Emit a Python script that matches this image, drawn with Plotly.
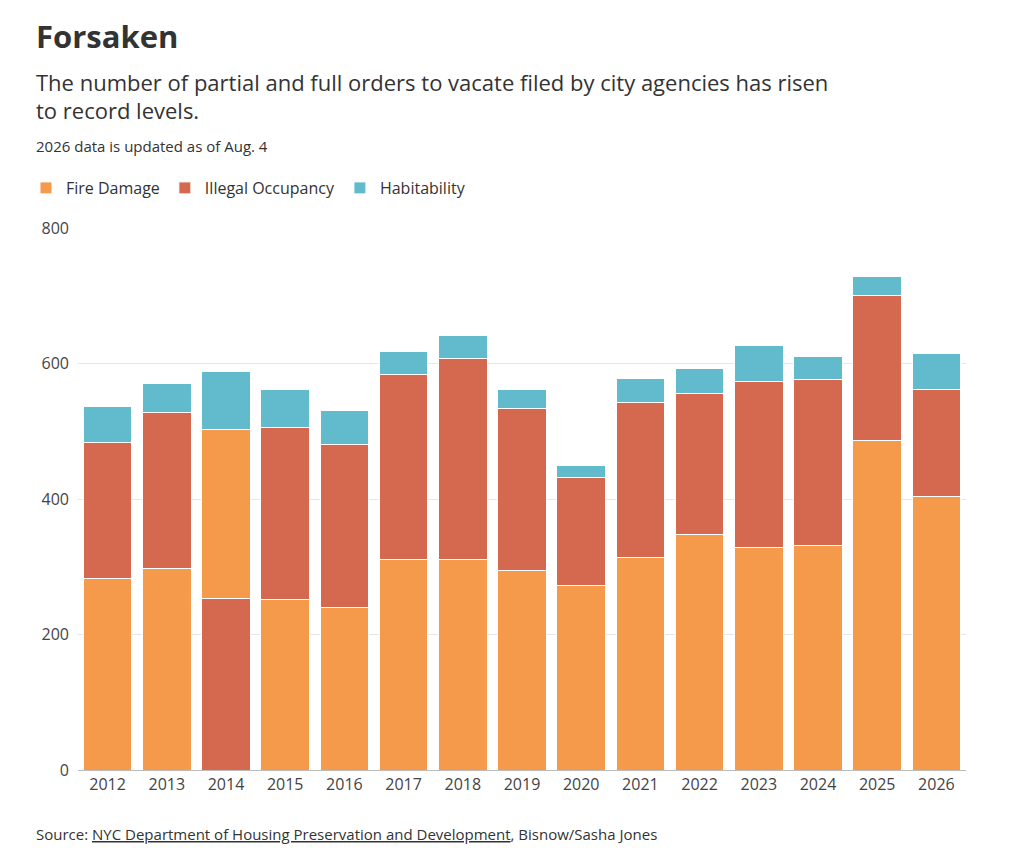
import plotly.graph_objects as go

years = [str(y) for y in range(2012, 2027)]
fire = [283, 298, 250, 252, 240, 311, 311, 295, 273, 313, 347, 329, 332, 487, 404]
illegal = [201, 229, 253, 253, 240, 273, 297, 238, 159, 230, 208, 245, 245, 213, 157]
habit = [53, 44, 85, 56, 50, 33, 34, 29, 17, 35, 38, 52, 33, 29, 54]
# In 2014 the Illegal Occupancy segment is drawn beneath Fire Damage
illegal_below_years = ["2014"]

C_FIRE = "#F5994A"
C_ILL = "#D5694F"
C_HAB = "#62BACD"
FONT = "Open Sans, Noto Sans, sans-serif"

ill_low = [v if y in illegal_below_years else 0 for y, v in zip(years, illegal)]
ill_high = [0 if y in illegal_below_years else v for y, v in zip(years, illegal)]

W, H = 1024, 853
ML, MR, MT, MB = 70, 66, 220, 91
PW, PH = W - ML - MR, H - MT - MB

def px(xp):
    return (xp - ML) / PW

def py(yp):
    return (H - MB - yp) / PH

line = dict(color="white", width=1)
fig = go.Figure()
fig.add_bar(x=years, y=ill_low, marker=dict(color=C_ILL, line=line), showlegend=False, name="Illegal Occupancy")
fig.add_bar(x=years, y=fire, marker=dict(color=C_FIRE, line=line), name="Fire Damage")
fig.add_bar(x=years, y=ill_high, marker=dict(color=C_ILL, line=line), name="Illegal Occupancy")
fig.add_bar(x=years, y=habit, marker=dict(color=C_HAB, line=line), name="Habitability")

fig.update_layout(
    barmode="stack", bargap=0.18,
    width=W, height=H,
    paper_bgcolor="white", plot_bgcolor="white",
    margin=dict(l=ML, r=MR, t=MT, b=MB),
    font=dict(family=FONT, color="#333"),
    legend=dict(orientation="h", x=px(18), y=py(180), xanchor="left", yanchor="middle",
                font=dict(size=16, color="#333"), traceorder="normal", itemwidth=30,
                tracegroupgap=0),
    xaxis=dict(tickfont=dict(size=16, color="#444"), showline=True, linecolor="#bbb",
               ticks="", showgrid=False),
    yaxis=dict(range=[0, 800], tickvals=[0, 200, 400, 600, 800], tickfont=dict(size=16, color="#444"),
               gridcolor="#e6e6e6", zeroline=False, ticks="", ticklabelstandoff=8),
)
ann = [
    ("<b>Forsaken</b>", 28, 31),
    ("The number of partial and full orders to vacate filed by city agencies has risen", 74, 22),
    ("to record levels.", 102, 22),
    ("2026 data is updated as of Aug. 4", 138, 15),
    ("Source: <u>NYC Department of Housing Preservation and Development</u>, Bisnow/Sasha Jones", 826, 15),
]
for text, ypix, size in ann:
    fig.add_annotation(text=text, x=px(26), y=py(ypix), xref="paper", yref="paper",
                       showarrow=False, xanchor="left", yanchor="middle", align="left",
                       font=dict(size=size, color="#333", family=FONT))

fig.write_html("out.html")
